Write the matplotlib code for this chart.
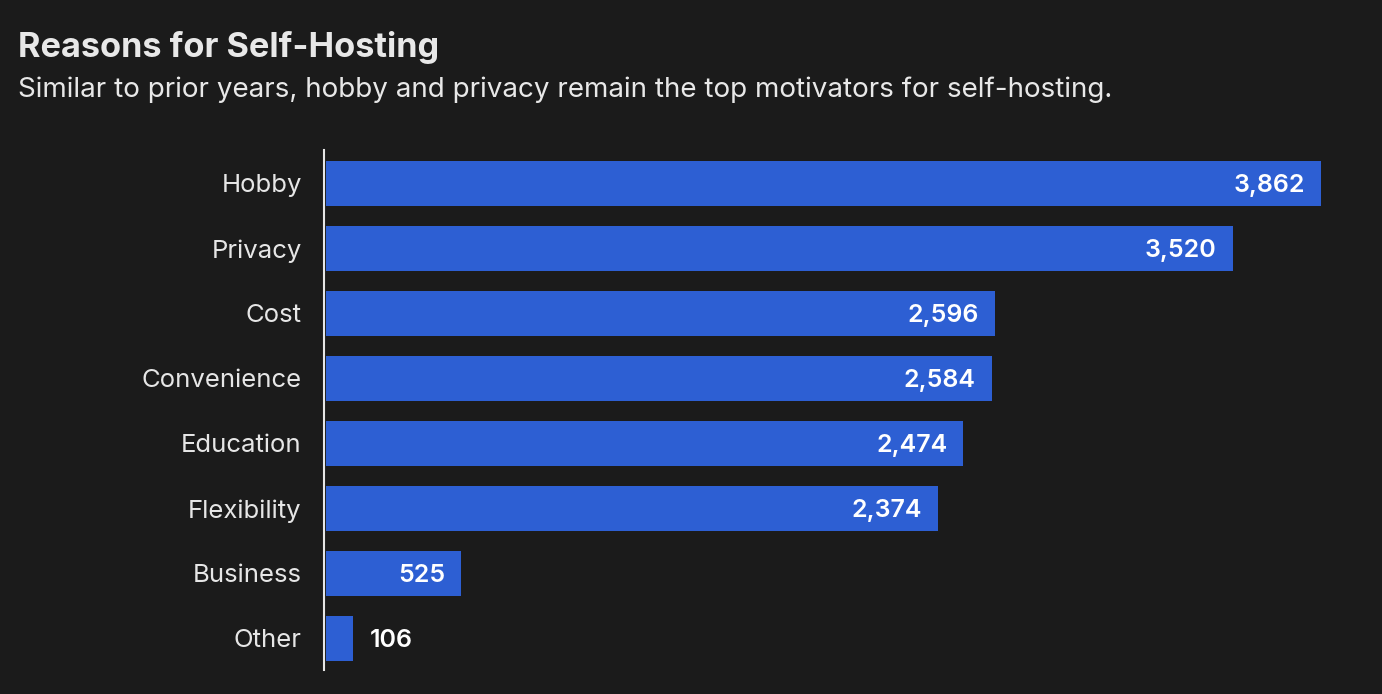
import matplotlib.pyplot as plt

plt.rcParams['font.family'] = ['Inter', 'DejaVu Sans']

categories = ['Hobby', 'Privacy', 'Cost', 'Convenience', 'Education',
              'Flexibility', 'Business', 'Other']
counts = [3862, 3520, 2596, 2584, 2474, 2374, 525, 106]

bg = '#1b1b1b'
bar_color = '#2d5fd3'

W, H = 1382, 694
fig = plt.figure(figsize=(W / 100, H / 100), dpi=100, facecolor=bg)
ax = fig.add_axes([324 / W, 1 - 670 / H, (1322 - 324) / W, (670 - 150) / H])
ax.set_facecolor(bg)

ypos = list(range(len(categories)))
ax.barh(ypos, counts, height=0.69, color=bar_color, left=0)
ax.set_xlim(-8, 3866)
ax.set_ylim(len(categories) - 1 + 0.485, -0.515)

for s in ['top', 'right', 'bottom']:
    ax.spines[s].set_visible(False)
ax.spines['left'].set_color('#e6e6e6')
ax.spines['left'].set_linewidth(1.5)
ax.spines['left'].set_position(('data', -8))
ax.set_xticks([])
ax.set_yticks(ypos)
ax.set_yticklabels(categories, fontsize=18.5, color='#e6e6e6')
for t in ax.get_yticklabels():
    t.set_verticalalignment('center_baseline')
ax.tick_params(axis='y', length=0, pad=16)

for y, v in zip(ypos, counts):
    label = f'{v:,}'
    if v > 300:
        ax.annotate(label, (v, y), xytext=(-16, 0), textcoords='offset pixels',
                    ha='right', va='center_baseline', fontsize=18, color='white',
                    fontweight='semibold')
    else:
        ax.annotate(label, (v, y), xytext=(16, 0), textcoords='offset pixels',
                    ha='left', va='center_baseline', fontsize=18, color='white',
                    fontweight='semibold')

fig.text(18 / W, 1 - 57 / H, 'Reasons for Self-Hosting', fontsize=24.7,
         fontweight='bold', color='#e8e8e8', va='baseline', ha='left')
fig.text(18 / W, 1 - 97 / H,
         'Similar to prior years, hobby and privacy remain the top motivators for self-hosting.',
         fontsize=20, color='#e8e8e8', va='baseline', ha='left')

fig.savefig('out.png', dpi=100, facecolor=bg)
